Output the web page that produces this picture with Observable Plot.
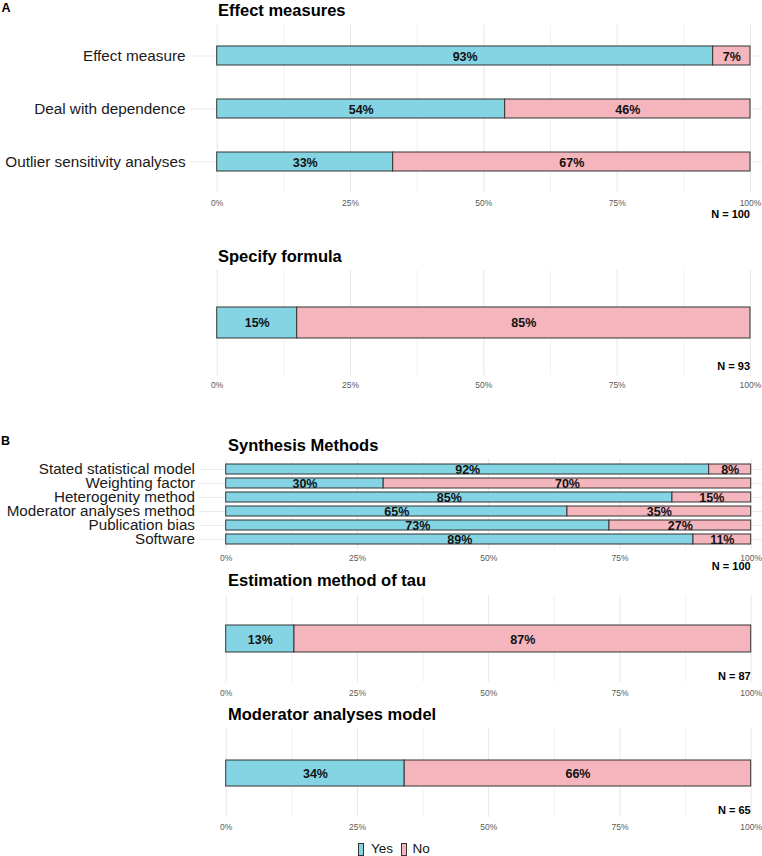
<!DOCTYPE html>
<html>
<head>
<meta charset="utf-8">
<script src="https://cdn.jsdelivr.net/npm/d3@7"></script>
<script src="https://cdn.jsdelivr.net/npm/@observablehq/plot@0.6"></script>
<style>
  body { margin: 0; background: #fff; }
  #root { position: relative; width: 762px; height: 856px; background: #fff; font-family: "Liberation Sans", Arial, sans-serif; overflow: hidden; }
  .abs { position: absolute; line-height: 1; white-space: nowrap; }
  .title { font-weight: bold; font-size: 16.5px; color: #000; }
  .tag { font-weight: bold; font-size: 12.5px; color: #000; }
  .n { font-weight: bold; font-size: 11px; color: #000; text-align: right; }
  .sw { position: absolute; width: 4px; height: 11px; border: 1px solid #333; }
  .lg { font-size: 13.5px; color: #111; }
</style>
</head>
<body>
<div id="root"></div>
<script>
// ---- data ----
const effectItems = ["Effect measure", "Deal with dependence", "Outlier sensitivity analyses"];
const effectYes = [93, 54, 33];
const effectNo = [7, 46, 67];

const formulaItems = ["Specify formula"];
const formulaYes = [15];
const formulaNo = [85];

const synthItems = ["Stated statistical model", "Weighting factor", "Heterogenity method",
  "Moderator analyses method", "Publication bias", "Software"];
const synthYes = [92, 30, 85, 65, 73, 89];
const synthNo = [8, 70, 15, 35, 27, 11];

const tauItems = ["Estimation method of tau"];
const tauYes = [13];
const tauNo = [87];

const modItems = ["Moderator analyses model"];
const modYes = [34];
const modNo = [66];

const panelTitles = ["Effect measures", "Specify formula", "Synthesis Methods", "Estimation method of tau", "Moderator analyses model"];
const panelN = [100, 93, 100, 87, 65];
const xTicks = [0, 25, 50, 75, 100];
const xMinor = [12.5, 37.5, 62.5, 87.5];
const responses = ["Yes", "No"];
const colors = ["#85D4E3", "#F4B5BD"];

const root = document.getElementById("root");

function addDiv(cls, text, style) {
  const d = document.createElement("div");
  d.className = "abs " + cls;
  d.textContent = text;
  Object.assign(d.style, style);
  root.appendChild(d);
  return d;
}

function panel(cfg) {
  const {items, yes, no, top, bottom, x0, x1, pi, po, labelSize, showY, tickPad} = cfg;
  const data = items.flatMap((it, i) => [
    {item: it, resp: responses[0], pct: yes[i]},
    {item: it, resp: responses[1], pct: no[i]}
  ]);
  const unit = (x1 - x0) / 100;
  const left = x0 - 5 * unit;
  const right = x0 + 105 * unit;
  const h = bottom - top;
  const svg = Plot.plot({
    width: 762,
    height: h + 30,
    marginTop: 0,
    marginBottom: 30,
    marginLeft: left,
    marginRight: 0,
    style: {fontFamily: '"Liberation Sans", Arial, sans-serif', background: "transparent", overflow: "visible"},
    x: {domain: [-5, 105], range: [left, right], axis: null},
    y: {domain: items, paddingInner: pi, paddingOuter: po, axis: null},
    color: {domain: responses, range: colors},
    marks: [
      Plot.ruleX(xMinor, {stroke: "#ebebeb", strokeWidth: 0.7}),
      Plot.ruleX(xTicks, {stroke: "#e6e6e6", strokeWidth: 1}),
      showY ? Plot.ruleY(items, {y: d => d, stroke: "#ebebeb", strokeWidth: 1}) : null,
      Plot.barX(data, Plot.stackX({x: "pct", y: "item", fill: "resp", stroke: "#333", strokeWidth: 1})),
      Plot.text(data, Plot.stackX({x: "pct", y: "item", z: "resp", text: d => d.pct + "%",
        fontSize: 12.5, fontWeight: "bold", fill: "#111", dy: 0.5})),
      Plot.axisX(xTicks, {tickSize: 0, tickPadding: tickPad, fontSize: 8.5, label: null,
        tickFormat: d => d + "%", color: "#5a5a5a"}),
      showY ? Plot.axisY({tickSize: 0, tickPadding: 5, fontSize: labelSize, label: null, color: "#1a1a1a"}) : null
    ]
  });
  svg.style.position = "absolute";
  svg.style.left = "0px";
  svg.style.top = top + "px";
  root.appendChild(svg);
}

// Panel A
addDiv("tag", "A", {left: "1.5px", top: "1.5px"});
addDiv("title", panelTitles[0], {left: "218px", top: "1.8px"});
panel({items: effectItems, yes: effectYes, no: effectNo, top: 25, bottom: 192.5, x0: 216.7, x1: 750,
  pi: 0.64, po: 0.396, labelSize: 15.3, showY: true, tickPad: 6.5});
addDiv("n", "N = " + panelN[0], {right: (762 - 750) + "px", top: (214.5 - 5.4) + "px"});

addDiv("title", panelTitles[1], {left: "218px", top: "247.6px"});
panel({items: formulaItems, yes: formulaYes, no: formulaNo, top: 270, bottom: 375.7, x0: 216.7, x1: 750,
  pi: 0.64, po: 0.426, labelSize: 15.3, showY: false, tickPad: 5.6});
addDiv("n", "N = " + panelN[1], {right: (762 - 750) + "px", top: (366.7 - 5.4) + "px"});

// Panel B
addDiv("tag", "B", {left: "1px", top: "435.4px"});
addDiv("title", panelTitles[2], {left: "228px", top: "437.1px"});
panel({items: synthItems, yes: synthYes, no: synthNo, top: 459, bottom: 549, x0: 225.7, x1: 750.7,
  pi: 0.305, po: 0.278, labelSize: 15.2, showY: true, tickPad: 5});
addDiv("n", "N = " + panelN[2], {right: (762 - 750.7) + "px", top: (566 - 5.4) + "px"});

addDiv("title", panelTitles[3], {left: "228px", top: "571.8px"});
panel({items: tauItems, yes: tauYes, no: tauNo, top: 595, bottom: 682, x0: 225.7, x1: 750.7,
  pi: 0.64, po: 0.406, labelSize: 15.2, showY: false, tickPad: 7});
addDiv("n", "N = " + panelN[3], {right: (762 - 750.7) + "px", top: (676 - 5.4) + "px"});

addDiv("title", panelTitles[4], {left: "228px", top: "705.6px"});
panel({items: modItems, yes: modYes, no: modNo, top: 728, bottom: 817, x0: 225.7, x1: 750.7,
  pi: 0.64, po: 0.436, labelSize: 15.2, showY: false, tickPad: 6.7});
addDiv("n", "N = " + panelN[4], {right: (762 - 750.7) + "px", top: (810.7 - 5.4) + "px"});

// Legend
const sw1 = document.createElement("div");
sw1.className = "sw"; sw1.style.left = "358px"; sw1.style.top = "842.5px"; sw1.style.background = colors[0];
root.appendChild(sw1);
addDiv("lg", responses[0], {left: "371px", top: (849 - 6.6) + "px"});
const sw2 = document.createElement("div");
sw2.className = "sw"; sw2.style.left = "400.5px"; sw2.style.top = "842.5px"; sw2.style.background = colors[1];
root.appendChild(sw2);
addDiv("lg", responses[1], {left: "412.5px", top: (849 - 6.6) + "px"});
</script>
</body>
</html>
